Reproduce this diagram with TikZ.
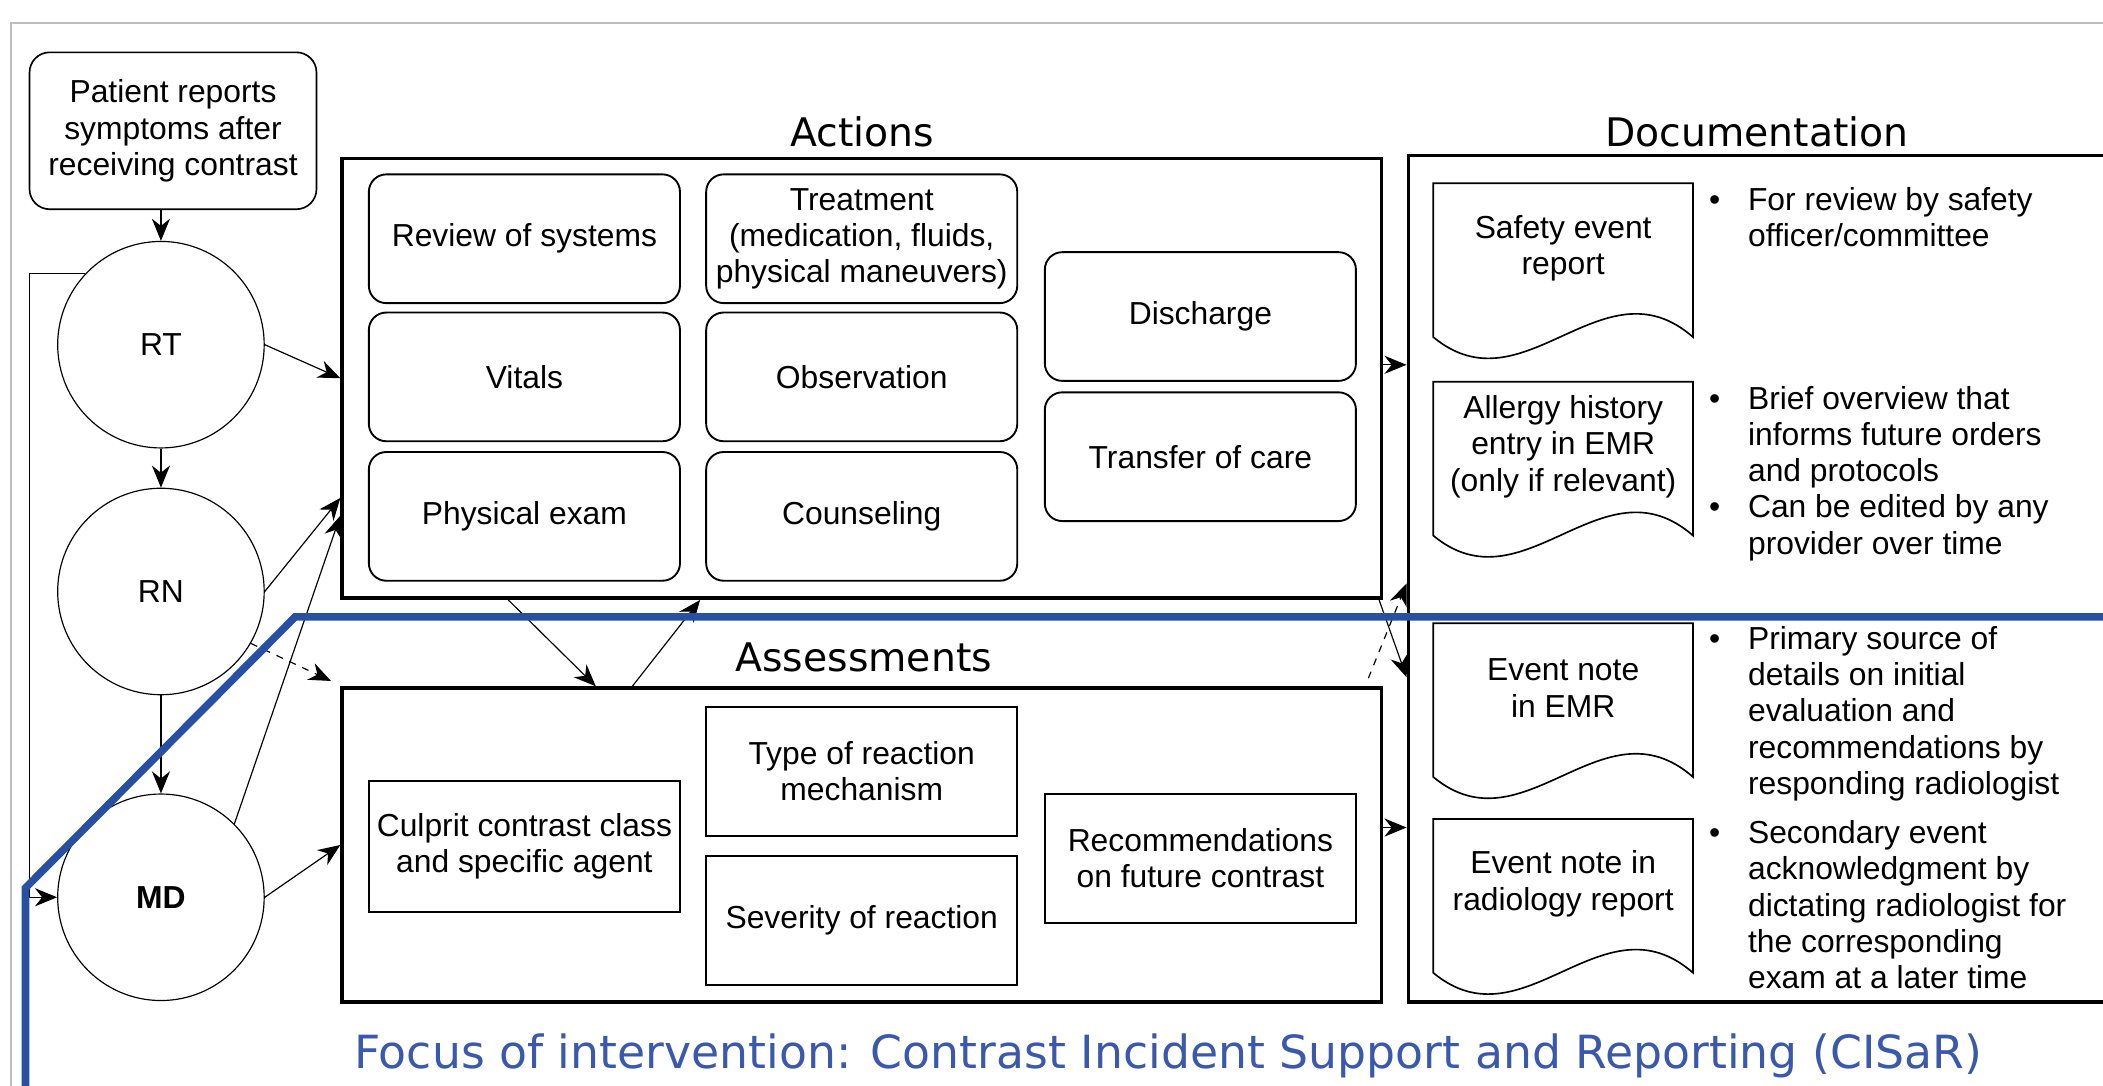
\documentclass[tikz,border=0pt]{standalone}
\usepackage{fontspec}
\setmainfont{Liberation Sans}
\newfontfamily\titlefont{DejaVu Sans}
\usetikzlibrary{arrows.meta,calc}

\definecolor{cisarline}{RGB}{40,80,162}
\definecolor{cisartext}{RGB}{58,88,172}
\definecolor{framegray}{RGB}{190,190,190}

\tikzset{
    startbox/.style={draw, rounded corners=0.3cm, line width=0.7pt, minimum width=4.28cm, minimum height=2.34cm, align=center, inner sep=1pt},
    role/.style={draw, circle, minimum size=3.08cm, inner sep=0pt, line width=0.5pt},
    groupbox/.style={draw, line width=1.5pt, inner sep=0pt},
    actbox/.style={draw, rounded corners=0.26cm, line width=0.8pt, minimum width=4.64cm, minimum height=1.92cm, align=center, inner sep=1pt},
    assbox/.style={draw, line width=0.8pt, minimum width=4.64cm, minimum height=1.92cm, align=center, inner sep=1pt},
    docbox/.style={minimum width=3.86cm, minimum height=1.92cm, align=center, inner sep=1pt},
    title/.style={font=\titlefont\fontsize{16.7}{20}\selectfont},
    bullets/.style={anchor=base west, inner sep=0pt, align=left},
    arr/.style={-{Stealth[length=3.3mm, width=2.7mm]}, line width=0.5pt},
}

% document symbol with a wavy lower edge
\newcommand{\docoutline}[1]{%
    \draw[line width=0.7pt] (#1.north west) -- ([yshift=-0.36cm]#1.south west)
        .. controls ([xshift=1.35cm, yshift=-1.48cm]#1.south west) and ([xshift=-1.35cm, yshift=0.82cm]#1.south east)
        .. ([yshift=-0.36cm]#1.south east) -- (#1.north east) -- cycle;}

\newcommand{\notelist}[1]{\begin{tabular}[t]{@{}p{0.58cm}@{}l@{}}#1\end{tabular}}

\begin{document}
\begin{tikzpicture}[x=0.02cm, y=-0.02cm, font=\fontsize{13.5}{15.4}\selectfont]
    \useasboundingbox (0,0) rectangle (1568,809);
    \draw[framegray, line width=1pt] (8,830) -- (8,17) -- (1580,17);

    \node[startbox] (patient) at (129,97.5) {Patient reports\\symptoms after\\receiving contrast};
    \node[role] (rt) at (120,257) {RT};
    \node[role] (rn) at (120,441) {RN};
    \node[role] (md) at (120,669) {\bfseries MD};

    \node[title] (actionstitle) at (643,98) {Actions};
    \node[groupbox, minimum width=15.5cm, minimum height=6.56cm] (actions) at (642.5,282) {};
    \node[actbox] (review) at (391,178) {Review of systems};
    \node[actbox] (vitals) at (391,281) {Vitals};
    \node[actbox] (exam) at (391,385) {Physical exam};
    \node[actbox] (treat) at (642.5,178) {Treatment\\(medication, fluids,\\physical maneuvers)};
    \node[actbox] (observe) at (642.5,281) {Observation};
    \node[actbox] (counsel) at (642.5,385) {Counseling};
    \node[actbox] (discharge) at (895,236) {Discharge};
    \node[actbox] (transfer) at (895,340.5) {Transfer of care};

    \node[title] (assesstitle) at (644,490) {Assessments};
    \node[groupbox, minimum width=15.5cm, minimum height=4.68cm] (assess) at (642.5,630) {};
    \node[assbox, minimum height=1.96cm] (culprit) at (391,631) {Culprit contrast class\\and specific agent};
    \node[assbox] (mechanism) at (642.5,575) {Type of reaction\\mechanism};
    \node[assbox] (severity) at (642.5,686.5) {Severity of reaction};
    \node[assbox] (recommend) at (895,640) {Recommendations\\on future contrast};

    \node[title] (docstitle) at (1310,98) {Documentation};
    \node[groupbox, minimum width=10.56cm, minimum height=12.62cm] (docs) at (1314,431.5) {};
    \node[docbox] (safety) at (1165.5,185) {Safety event\\report};
    \docoutline{safety}
    \node[docbox] (allergy) at (1165.5,333) {Allergy history\\entry in EMR\\(only if relevant)};
    \docoutline{allergy}
    \node[docbox] (emrnote) at (1165.5,513) {Event note\\in EMR};
    \docoutline{emrnote}
    \node[docbox] (radnote) at (1165.5,659) {Event note in\\radiology report};
    \docoutline{radnote}

    \node[bullets] (safetylist) at (1274,157) {\notelist{\textbullet & For review by safety\\ & officer/committee}};
    \node[bullets] (allergylist) at (1274,305) {\notelist{\textbullet & Brief overview that\\ & informs future orders\\ & and protocols\\
        \textbullet & Can be edited by any\\ & provider over time}};
    \node[bullets] (emrlist) at (1274,484) {\notelist{\textbullet & Primary source of\\ & details on initial\\ & evaluation and\\ & recommendations by\\ & responding radiologist}};
    \node[bullets] (radlist) at (1274,629) {\notelist{\textbullet & Secondary event\\ & acknowledgment by\\ & dictating radiologist for\\ & the corresponding\\ & exam at a later time}};

    \coordinate (loop) at (22,205);
    \draw[arr] (patient.south -| rt) -- (rt.north);
    \draw[arr] (rt) -- (rn);
    \draw[arr] (rn) -- (md);
    \draw[arr] (rt.137) -- (rt.137 -| loop) |- (md.west);
    \draw[arr] (rt.east) -- (actions.west);
    \draw[arr] (rn.east) -- ($(actions.north west)!0.77!(actions.south west)$);
    \draw[arr] (md.45) -- ($(actions.north west)!0.81!(actions.south west)$);
    \draw[arr, dashed] (rn.-30) -- ([xshift=-0.14cm, yshift=0.08cm]assess.north west);
    \draw[arr] (md.east) -- (assess.west);
    \draw[arr] ($(actions.south west)!0.161!(actions.south east)$) -- ($(assess.north west)!0.245!(assess.north east)$);
    \draw[arr] ($(assess.north west)!0.28!(assess.north east)$) -- ($(actions.south west)!0.345!(actions.south east)$);
    \draw[arr] ([yshift=0.2cm]actions.east) -- ([yshift=0.2cm]actions.east -| docs.west);
    \draw[arr] ([xshift=-0.06cm]actions.south east) -- ([yshift=-1.47cm]docs.west);
    \draw[arr, dashed] ([xshift=-0.22cm, yshift=0.12cm]assess.north east) -- ([yshift=-0.07cm]docs.west);
    \draw[arr] ([yshift=0.26cm]assess.east) -- ([yshift=0.26cm]assess.east -| docs.west);

    \draw[cisarline, line width=3.2pt] (19,830) -- (19,662) -- (220,460) -- (1580,460);
    \node[text=cisartext, font=\titlefont\fontsize{19.4}{23}\selectfont] (focus) at (871,787) {Focus of intervention: Contrast Incident Support and Reporting (CISaR)};
\end{tikzpicture}
\end{document}
